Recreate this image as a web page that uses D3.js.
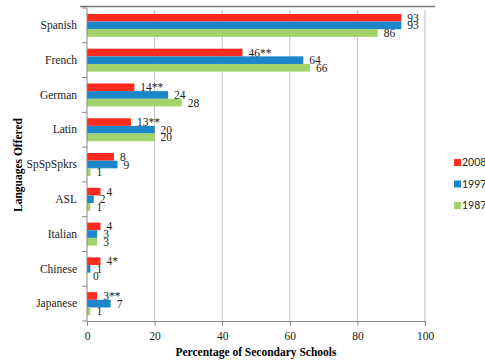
<!DOCTYPE html>
<html>
<head>
<meta charset="utf-8">
<script src="https://cdn.jsdelivr.net/npm/d3@7"></script>
<style>
  body { margin: 0; background: #fff; }
  .tick text { font-family: "Liberation Serif", "DejaVu Serif", serif; font-size: 11.5px; fill: #222; }
</style>
</head>
<body>
<div id="chart"></div>
<script>
// Languages and survey years
var languages = ["Spanish", "French", "German", "Latin", "SpSpSpkrs", "ASL", "Italian", "Chinese", "Japanese"];
var years = ["2008", "1997", "1987"];

// Percentages per series, in language order
var values2008 = [93, 46, 14, 13, 8, 4, 4, 4, 3];
var values1997 = [93, 64, 24, 20, 9, 2, 3, 1, 7];
var values1987 = [86, 66, 28, 20, 1, 1, 3, 0, 1];

// Significance marks shown after the 2008 labels
var marks2008 = ["", "**", "**", "**", "", "", "", "*", "**"];

var xTicks = [0, 20, 40, 60, 80, 100];
var colors = ["#ff2b1f", "#1b87c9", "#a1d36a"];

var series = [values2008, values1997, values1987];

const width = 485, height = 363;
const margin = { top: 8, right: 60, bottom: 42, left: 87 };
const plotW = 425 - margin.left;
const plotH = 321 - margin.top;

var svg = d3.select("#chart").append("svg")
    .attr("width", width)
    .attr("height", height);

var g = svg.append("g")
    .attr("transform", "translate(" + margin.left + "," + margin.top + ")");

const x = d3.scaleLinear().domain([0, 100]).range([0, plotW]);
const y = d3.scaleBand().domain(languages).range([0, plotH]).paddingInner(0.34).paddingOuter(0.17);
const sub = d3.scaleBand().domain(years).range([0, y.bandwidth()]);

// Top border line
svg.append("line")
    .attr("x1", 80).attr("x2", 435)
    .attr("y1", 6.5).attr("y2", 6.5)
    .attr("stroke", "#777").attr("stroke-width", 1.5);

// Vertical gridlines
g.selectAll(".grid")
    .data(xTicks.slice(1))
    .enter().append("line")
    .attr("x1", d => x(d)).attr("x2", d => x(d))
    .attr("y1", 2).attr("y2", plotH)
    .attr("stroke", "#bdbdbd").attr("stroke-width", 1);

// Bars
years.forEach(function (yr, s) {
    g.selectAll(".bar" + yr)
        .data(series[s])
        .enter().append("rect")
        .attr("x", 0)
        .attr("y", (d, i) => y(languages[i]) + sub(yr))
        .attr("width", d => x(d))
        .attr("height", sub.bandwidth())
        .attr("fill", colors[s]);

    g.selectAll(".lab" + yr)
        .data(series[s])
        .enter().append("text")
        .attr("x", d => x(d) + 6)
        .attr("y", (d, i) => y(languages[i]) + sub(yr) + sub.bandwidth() / 2 + 4)
        .attr("font-family", "Liberation Serif, DejaVu Serif, serif")
        .attr("font-size", "11.5px")
        .attr("fill", "#222")
        .text((d, i) => d + (s === 0 ? marks2008[i] : ""));
});

// Axes
var yAxis = g.append("g")
    .call(d3.axisLeft(y).tickSize(0).tickPadding(10));
yAxis.select(".domain").remove();

// category separator ticks on left axis
var seps = d3.range(languages.length + 1).map(i => i * y.step());
g.selectAll(".sep")
    .data(seps)
    .enter().append("line")
    .attr("x1", -5).attr("x2", 0)
    .attr("y1", d => d).attr("y2", d => d)
    .attr("stroke", "#888");
g.append("line")
    .attr("x1", 0).attr("x2", 0).attr("y1", 0).attr("y2", plotH)
    .attr("stroke", "#888");

var xAxis = g.append("g")
    .attr("transform", "translate(0," + plotH + ")")
    .call(d3.axisBottom(x).tickValues(xTicks).tickSize(5).tickPadding(6));
xAxis.select(".domain").attr("stroke", "#888");
xAxis.selectAll(".tick line").attr("stroke", "#888");

// Axis titles
svg.append("text")
    .attr("x", 256).attr("y", 356)
    .attr("text-anchor", "middle")
    .attr("font-family", "Liberation Serif, DejaVu Serif, serif")
    .attr("font-weight", "bold")
    .attr("font-size", "11.5px")
    .text("Percentage of Secondary Schools");

svg.append("text")
    .attr("transform", "translate(22,165) rotate(-90)")
    .attr("text-anchor", "middle")
    .attr("font-family", "Liberation Serif, DejaVu Serif, serif")
    .attr("font-weight", "bold")
    .attr("font-size", "11.5px")
    .text("Languages Offered");

// Legend
var legend = svg.selectAll(".legend")
    .data(years)
    .enter().append("g")
    .attr("transform", (d, i) => "translate(454," + (165 + i * 21.5) + ")");
legend.append("rect")
    .attr("x", 0).attr("y", -6)
    .attr("width", 7).attr("height", 7)
    .attr("fill", (d, i) => colors[i]);
legend.append("text")
    .attr("x", 8).attr("y", 1)
    .attr("font-family", "Lato, Liberation Sans, sans-serif")
    .attr("font-size", "10.5px")
    .attr("fill", "#222")
    .text(d => d);
</script>
</body>
</html>
